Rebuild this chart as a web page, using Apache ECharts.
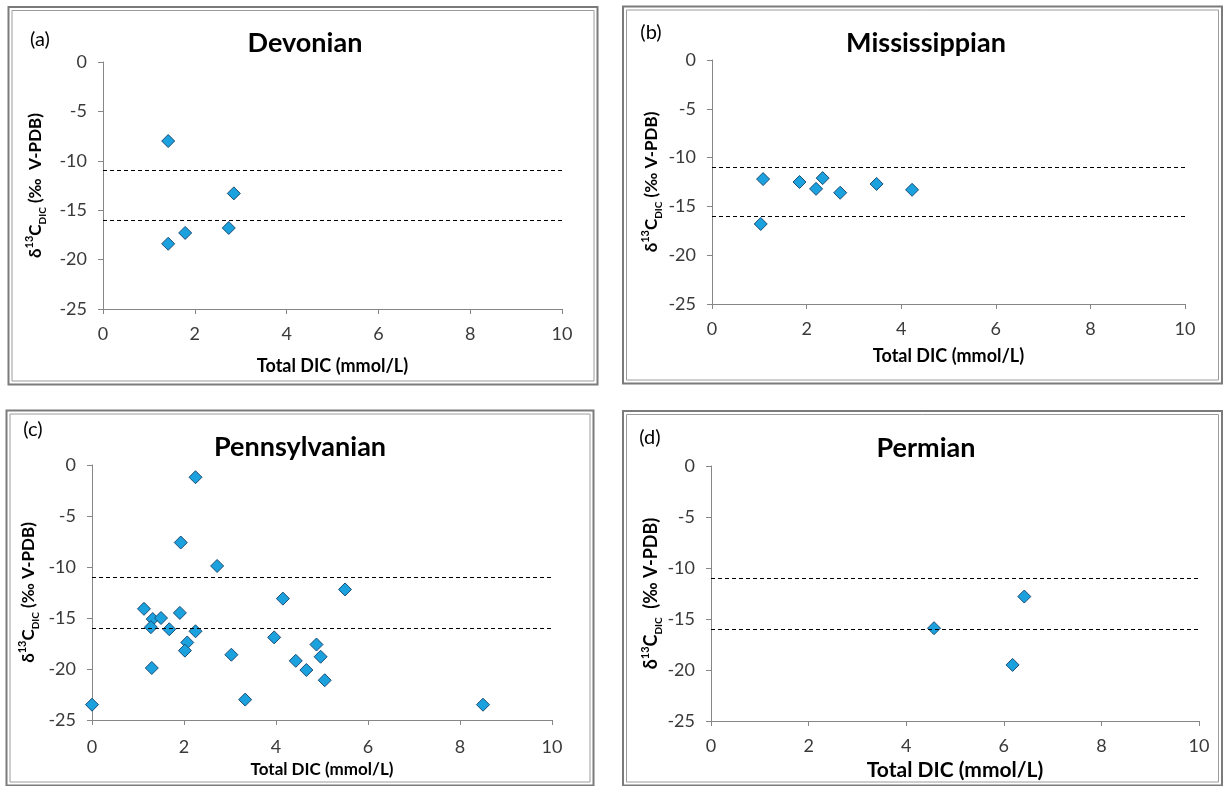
<!DOCTYPE html>
<html>
<head>
<meta charset="utf-8">
<script src="https://cdn.jsdelivr.net/npm/echarts@6/dist/echarts.min.js"></script>
<style>
  html, body { margin: 0; padding: 0; background: #ffffff; }
  #chart { width: 1224px; height: 786px; }
</style>
</head>
<body>
<div id="chart"></div>
<script>
// ---- data ----
const periods = ['Devonian', 'Mississippian', 'Pennsylvanian', 'Permian'];
const panelTags = ['(a)', '(b)', '(c)', '(d)'];
const xTicks = [0, 2, 4, 6, 8, 10];
const yTicks = [-25, -20, -15, -10, -5, 0];
const refLines = [-11, -16];           // dashed reference levels (‰)
const xTitle = 'Total DIC (mmol/L)';

// [total DIC (mmol/L), δ13C DIC (‰ V-PDB)]
const devonian = [
  [1.42, -8.0], [2.85, -13.3], [2.74, -16.8], [1.79, -17.3], [1.42, -18.4]
];
const mississippian = [
  [1.08, -12.2], [1.03, -16.8], [1.85, -12.5], [2.20, -13.2],
  [2.34, -12.1], [2.71, -13.6], [3.48, -12.7], [4.23, -13.3]
];
const pennsylvanian = [
  [0.00, -23.5], [1.13, -14.1], [1.32, -15.1], [1.28, -15.9], [1.50, -15.0],
  [1.30, -19.9], [1.68, -16.1], [1.91, -14.5], [1.93, -7.6], [2.25, -1.2],
  [2.07, -17.4], [2.02, -18.2], [2.25, -16.3], [2.72, -9.9], [3.03, -18.6],
  [3.33, -23.0], [3.96, -16.9], [4.15, -13.1], [4.43, -19.2], [4.66, -20.1],
  [4.88, -17.6], [4.97, -18.8], [5.06, -21.1], [5.50, -12.2], [8.50, -23.5]
];
const permian = [
  [4.57, -15.9], [6.42, -12.8], [6.18, -19.5]
];
const panelData = [devonian, mississippian, pennsylvanian, permian];

// ---- layout of the four panels ----
const FONT = 'Lato, "Open Sans", "Noto Sans", sans-serif';
const panels = [
  { grid: { left: 103, top: 62, width: 459, height: 247 },
    frame: [8.5, 7, 589, 377.5], title: [305, 43], tag: [40, 40],
    yName: 'δ{sup|13}C{sub|DIC} (‰  V-PDB)', yGap: 55, yFont: 17,
    xGap: 48, xFont: 18, xMargin: 16 },
  { grid: { left: 712, top: 60, width: 473, height: 244 },
    frame: [623, 6.5, 599, 377], title: [926, 43], tag: [651, 33],
    yName: 'δ{sup|13}C{sub|DIC} (‰ V-PDB)', yGap: 48, yFont: 17,
    xGap: 43, xFont: 18, xMargin: 16 },
  { grid: { left: 92, top: 465, width: 460, height: 255 },
    frame: [6.5, 410.5, 587, 375], title: [300, 447], tag: [33, 430],
    yName: 'δ{sup|13}C{sub|DIC} (‰ V-PDB)', yGap: 51, yFont: 17,
    xGap: 41, xFont: 17, xMargin: 18 },
  { grid: { left: 711, top: 466, width: 488, height: 255 },
    frame: [623, 411, 599, 374.5], title: [926, 448], tag: [650, 438],
    yName: 'δ{sup|13}C{sub|DIC}  (‰ V-PDB)', yGap: 47, yFont: 18,
    xGap: 39, xFont: 21, xMargin: 16 }
];

const AXIS = '#868686';
const LABEL = '#3a3a3a';

const grids = [], xAxes = [], yAxes = [], series = [], graphics = [];

panels.forEach((p, i) => {
  grids.push(Object.assign({ containLabel: false }, p.grid));

  xAxes.push({
    gridIndex: i, type: 'value',
    min: xTicks[0], max: xTicks[xTicks.length - 1], interval: xTicks[1] - xTicks[0],
    axisLine: { show: true, onZero: false, lineStyle: { color: AXIS, width: 1 } },
    axisTick: { show: true, inside: false, length: 5, lineStyle: { color: AXIS } },
    splitLine: { show: false },
    axisLabel: { margin: p.xMargin, fontSize: 18, color: LABEL, fontFamily: FONT,
                 showMinLabel: true, showMaxLabel: true },
    name: xTitle, nameLocation: 'middle', nameGap: p.xGap,
    nameTextStyle: { fontFamily: FONT, fontWeight: 'bold', fontSize: p.xFont, color: '#000' }
  });

  yAxes.push({
    gridIndex: i, type: 'value',
    min: yTicks[0], max: yTicks[yTicks.length - 1], interval: yTicks[1] - yTicks[0],
    axisLine: { show: true, onZero: false, lineStyle: { color: AXIS, width: 1 } },
    axisTick: { show: true, inside: false, length: 5, lineStyle: { color: AXIS } },
    splitLine: { show: false },
    axisLabel: { margin: 16, fontSize: 18, color: LABEL, fontFamily: FONT,
                 showMinLabel: true, showMaxLabel: true },
    name: p.yName, nameLocation: 'middle', nameRotate: 90, nameGap: p.yGap,
    nameTextStyle: {
      fontFamily: FONT, fontWeight: 'bold', fontSize: p.yFont, color: '#000', lineHeight: 24,
      rich: {
        sup: { fontFamily: FONT, fontWeight: 'bold', fontSize: 11, lineHeight: 11,
               color: '#000', verticalAlign: 'top' },
        sub: { fontFamily: FONT, fontWeight: 'bold', fontSize: 10, lineHeight: 10,
               color: '#000', verticalAlign: 'bottom' }
      }
    }
  });

  series.push({
    type: 'scatter', name: periods[i], xAxisIndex: i, yAxisIndex: i,
    data: panelData[i],
    symbol: 'diamond', symbolSize: 13,
    itemStyle: { color: '#1BA1DE', borderColor: '#1D4C74', borderWidth: 1, opacity: 1 },
    z: 3,
    markLine: {
      silent: true, symbol: ['none', 'none'], animation: false,
      label: { show: false },
      lineStyle: { color: '#000', width: 1, type: [4, 3] },
      emphasis: { disabled: true },
      data: refLines.map(v => ({ yAxis: v }))
    }
  });

  // double-line panel frame
  const [fx, fy, fw, fh] = p.frame;
  graphics.push({
    type: 'rect', silent: true, z: -1,
    shape: { x: fx, y: fy, width: fw, height: fh },
    style: { fill: null, stroke: '#7b7b7b', lineWidth: 2 }
  });
  graphics.push({
    type: 'rect', silent: true, z: -1,
    shape: { x: fx + 3.5, y: fy + 3.5, width: fw - 7, height: fh - 7 },
    style: { fill: null, stroke: '#9c9c9c', lineWidth: 1 }
  });

  // panel title and letter tag
  graphics.push({
    type: 'text', silent: true, x: p.title[0], y: p.title[1],
    style: { text: periods[i], fontFamily: FONT, fontWeight: 'bold', fontSize: 27,
             fill: '#000', align: 'center', verticalAlign: 'middle' }
  });
  graphics.push({
    type: 'text', silent: true, x: p.tag[0], y: p.tag[1],
    style: { text: panelTags[i], fontFamily: FONT, fontSize: 20,
             fill: '#000', align: 'center', verticalAlign: 'middle' }
  });
});

const chart = echarts.init(document.getElementById('chart'), null, { renderer: 'canvas' });
chart.setOption({
  backgroundColor: '#ffffff',
  animation: false,
  grid: grids,
  xAxis: xAxes,
  yAxis: yAxes,
  series: series,
  graphic: graphics
});
</script>
</body>
</html>
